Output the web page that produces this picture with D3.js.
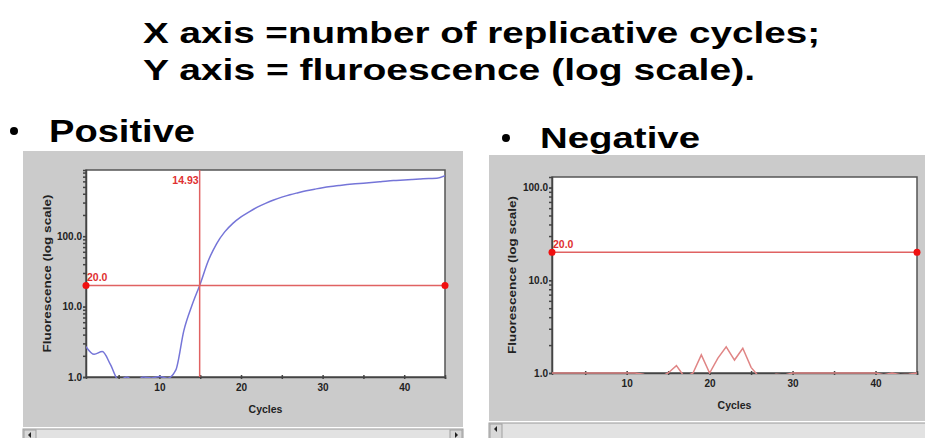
<!DOCTYPE html>
<html>
<head>
<meta charset="utf-8">
<script src="https://cdn.jsdelivr.net/npm/d3@7"></script>
<style>
  body { margin: 0; background: #fff; }
  svg { display: block; }
  .big { font-family: "Liberation Sans", Arial, sans-serif; font-weight: bold; fill: #000; }
  .small { font-family: "Liberation Sans", Arial, sans-serif; font-weight: bold; }
  .axis path, .axis line { stroke: #444; }
  .axis text { font-family: "Liberation Sans", Arial, sans-serif; font-weight: bold; font-size: 10px; fill: #222; }
</style>
</head>
<body>
<div id="chart"></div>
<script>
// cycles 1..45
var cycles = [1,2,3,4,5,6,7,8,9,10,11,12,13,14,15,16,17,18,19,20,21,22,23,24,25,
  26,27,28,29,30,31,32,33,34,35,36,37,38,39,40,41,42,43,44,45];

// positive sample fluorescence (values under 1 fall below the axis)
var positiveValues = [2.7,2.1,2.3,1.5,0.9,1.0,0.85,1.0,0.97,1.02,0.96,1.25,4.6,10.5,21,
  45,78,115,152,188,222,258,292,326,358,388,414,440,464,488,508,524,540,554,566,
  580,594,608,618,628,638,648,658,664,720];

// negative sample fluorescence
var negativeValues = [1.0,1.0,1.0,1.0,1.0,1.0,1.0,1.0,1.0,1.0,1.0,0.97,0.9,0.9,1.0,
  1.2,0.9,1.0,1.57,1.0,1.45,1.92,1.38,1.85,1.15,0.9,0.9,0.97,0.95,1.0,1.0,1.0,1.0,
  1.0,1.0,1.0,1.0,1.0,1.0,1.0,0.96,1.0,0.96,0.97,1.0];

var threshold = 20;
var ctPositive = 14.93;
var yMajorTicks = [1, 10, 100];
var xTicks = [10, 20, 30, 40];
var xMinorTicks = [5, 15, 25, 35, 45];

var width = 925, height = 438;

var svg = d3.select("#chart").append("svg")
  .attr("width", width)
  .attr("height", height);

// heading
svg.append("text").attr("class", "big")
  .attr("x", 143).attr("y", 43)
  .attr("font-size", 30)
  .attr("textLength", 677).attr("lengthAdjust", "spacingAndGlyphs")
  .text("X axis =number of replicative cycles;");
svg.append("text").attr("class", "big")
  .attr("x", 143).attr("y", 80)
  .attr("font-size", 30)
  .attr("textLength", 612).attr("lengthAdjust", "spacingAndGlyphs")
  .text("Y axis = fluroescence (log scale).");

// bullets
svg.append("circle").attr("cx", 14).attr("cy", 131).attr("r", 4).attr("fill", "#000");
svg.append("text").attr("class", "big")
  .attr("x", 49).attr("y", 142).attr("font-size", 32)
  .attr("textLength", 146).attr("lengthAdjust", "spacingAndGlyphs")
  .text("Positive");
svg.append("circle").attr("cx", 506).attr("cy", 138).attr("r", 4).attr("fill", "#000");
svg.append("text").attr("class", "big")
  .attr("x", 540).attr("y", 148).attr("font-size", 30)
  .attr("textLength", 160).attr("lengthAdjust", "spacingAndGlyphs")
  .text("Negative");

function drawPanel(opt) {
  var g = svg.append("g");

  // grey window
  g.append("rect")
    .attr("x", opt.box[0]).attr("y", opt.box[1])
    .attr("width", opt.box[2] - opt.box[0]).attr("height", opt.box[3] - opt.box[1])
    .attr("fill", "#cbcbcb");

  // scrollbar
  var sb = opt.scroll;
  g.append("rect").attr("x", sb[0]).attr("y", sb[1])
    .attr("width", sb[2] - sb[0]).attr("height", sb[3] - sb[1])
    .attr("fill", "#e2e2e2").attr("stroke", "#9a9a9a");
  g.append("rect").attr("x", sb[0] + 1).attr("y", sb[1] + 1)
    .attr("width", 12).attr("height", sb[3] - sb[1] - 1)
    .attr("fill", "#d8d8d8").attr("stroke", "#a0a0a0");
  g.append("path")
    .attr("d", "M" + (sb[0] + 5) + "," + (sb[1] + 6) + "l3,-3v6z")
    .attr("fill", "#222");
  if (opt.rightArrow) {
    g.append("rect").attr("x", sb[2] - 13).attr("y", sb[1] + 1)
      .attr("width", 12).attr("height", sb[3] - sb[1] - 1)
      .attr("fill", "#d8d8d8").attr("stroke", "#a0a0a0");
    g.append("path")
      .attr("d", "M" + (sb[2] - 5) + "," + (sb[1] + 6) + "l-3,-3v6z")
      .attr("fill", "#222");
  }

  var p = opt.plot;
  var x = d3.scaleLinear().domain([1, 45]).range([p[0], p[2]]);
  var y = d3.scaleLog().domain([1, opt.yMax]).range([p[3], p[1]]);

  g.append("rect")
    .attr("x", p[0]).attr("y", p[1])
    .attr("width", p[2] - p[0]).attr("height", p[3] - p[1])
    .attr("fill", "#fff")
    .attr("stroke", "#555").attr("stroke-width", 1.5);

  // minor log ticks
  g.append("g").attr("class", "axis")
    .attr("transform", "translate(" + p[0] + ",0)")
    .call(d3.axisLeft(y).ticks(20).tickSize(3).tickFormat(""))
    .call(s => s.select(".domain").remove())
    .selectAll("line").attr("stroke-width", 1.5);

  g.append("g").attr("class", "axis")
    .attr("transform", "translate(" + p[0] + ",0)")
    .call(d3.axisLeft(y).tickValues(yMajorTicks).tickSize(3).tickPadding(1).tickFormat(d3.format(".1f")))
    .call(s => s.select(".domain").attr("stroke-width", 1.5));

  g.append("g").attr("class", "axis")
    .attr("transform", "translate(0," + p[3] + ")")
    .call(d3.axisBottom(x).tickValues(xTicks).tickSize(2).tickPadding(5).tickFormat(d3.format("d")))
    .call(s => s.select(".domain").attr("stroke-width", 1.5))
    .call(s => s.selectAll("line").attr("y1", -2).attr("stroke-width", 1.5));

  g.append("g").attr("class", "axis")
    .attr("transform", "translate(0," + p[3] + ")")
    .call(d3.axisBottom(x).tickValues(xMinorTicks).tickSize(2).tickFormat(""))
    .call(s => s.select(".domain").remove())
    .call(s => s.selectAll("line").attr("y1", -2).attr("stroke-width", 1.5));

  // axis titles
  g.append("text").attr("class", "small")
    .attr("transform", "translate(" + opt.yLabelX + "," + ((p[1] + p[3]) / 2) + ")rotate(-90)")
    .attr("text-anchor", "middle").attr("font-size", 10.5).attr("fill", "#222")
    .attr("textLength", 158).attr("lengthAdjust", "spacingAndGlyphs")
    .text("Fluorescence (log scale)");
  g.append("text").attr("class", "small")
    .attr("x", (p[0] + p[2]) / 2).attr("y", p[3] + 36)
    .attr("text-anchor", "middle").attr("font-size", 10.5).attr("fill", "#222")
    .text("Cycles");

  // data curve
  var clipId = "clip" + opt.id;
  g.append("clipPath").attr("id", clipId)
    .append("rect")
    .attr("x", p[0]).attr("y", p[1])
    .attr("width", p[2] - p[0]).attr("height", p[3] - p[1] + 1);

  var line = d3.line()
    .x((d, i) => x(cycles[i]))
    .y(d => y(d))
    .curve(opt.curve);

  g.append("path")
    .datum(opt.values)
    .attr("clip-path", "url(#" + clipId + ")")
    .attr("fill", "none")
    .attr("stroke", opt.color)
    .attr("stroke-width", 1.5)
    .attr("d", line);

  // threshold
  g.append("line")
    .attr("x1", p[0]).attr("x2", p[2])
    .attr("y1", y(threshold)).attr("y2", y(threshold))
    .attr("stroke", "#e06262").attr("stroke-width", 1.5);
  g.selectAll("circle.thr").data([p[0], p[2]]).enter().append("circle")
    .attr("class", "thr")
    .attr("cx", d => d).attr("cy", y(threshold)).attr("r", 3.5)
    .attr("fill", "#f01010");
  g.append("text").attr("class", "small")
    .attr("x", p[0] + 1).attr("y", y(threshold) - 4)
    .attr("font-size", 10.5).attr("fill", "#e03030")
    .text(d3.format(".1f")(threshold));

  if (opt.ct) {
    g.append("line")
      .attr("x1", x(opt.ct)).attr("x2", x(opt.ct))
      .attr("y1", p[1]).attr("y2", p[3])
      .attr("stroke", "#e06262").attr("stroke-width", 1.5);
    g.append("text").attr("class", "small")
      .attr("x", x(opt.ct) - 1).attr("y", p[1] + 14)
      .attr("text-anchor", "end")
      .attr("font-size", 10.5).attr("fill", "#e03030")
      .text(opt.ct);
  }
}

drawPanel({
  id: "pos",
  box: [23, 151, 463, 427],
  scroll: [23, 429, 463, 440],
  rightArrow: true,
  plot: [86, 170, 445, 377],
  yMax: 870,
  yLabelX: 51,
  values: positiveValues,
  color: "#7575d8",
  curve: d3.curveMonotoneX,
  ct: ctPositive
});

drawPanel({
  id: "neg",
  box: [489, 155, 925, 421],
  scroll: [489, 423, 927, 440],
  rightArrow: false,
  plot: [552, 177, 917, 373],
  yMax: 130,
  yLabelX: 516,
  values: negativeValues,
  color: "#e08585",
  curve: d3.curveLinear,
  ct: null
});
</script>
</body>
</html>
